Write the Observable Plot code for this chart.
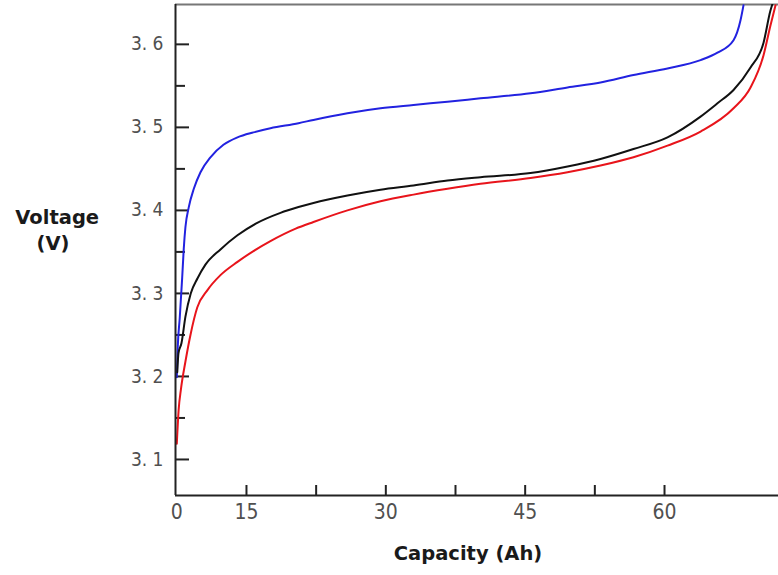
<!DOCTYPE html>
<html><head><meta charset="utf-8">
<script src="https://cdn.jsdelivr.net/npm/d3@7"></script>
<script src="https://cdn.jsdelivr.net/npm/@observablehq/plot@0.6"></script>
<style>
html,body{margin:0;padding:0;background:#fff;}
#chart svg{display:block;}
</style></head><body><div id="chart"></div>
<script>
// ---- data ----
const blueCapacity = [7.5, 7.6, 7.82, 8.08, 8.25, 8.43, 8.79, 9.33, 10.05, 11.12, 12.52, 14.03, 15.75, 17.58, 20.6, 22.21, 25.87, 29.43, 32.98, 36.64, 40.19, 45.57, 49.56, 53.11, 56.66, 60.32, 63.88, 65.7, 67.43, 68.18, 68.5];
const blueVoltage  = [3.199, 3.235, 3.271, 3.319, 3.354, 3.38, 3.404, 3.426, 3.446, 3.464, 3.479, 3.488, 3.494, 3.499, 3.505, 3.509, 3.517, 3.523, 3.527, 3.531, 3.535, 3.541, 3.548, 3.554, 3.563, 3.571, 3.581, 3.59, 3.605, 3.629, 3.647];

const blackCapacity = [7.55, 7.68, 8.0, 8.43, 9.0, 9.72, 10.6, 12.2, 14.03, 16.0, 18.66, 20.6, 22.21, 25.87, 29.43, 32.98, 36.64, 40.19, 45.57, 49.56, 53.11, 56.66, 60.32, 63.88, 65.7, 67.43, 69.26, 70.66, 71.41, 71.6];
const blackVoltage  = [3.205, 3.228, 3.24, 3.272, 3.3, 3.318, 3.335, 3.353, 3.37, 3.384, 3.397, 3.404, 3.409, 3.418, 3.425, 3.43, 3.436, 3.44, 3.445, 3.453, 3.462, 3.474, 3.488, 3.513, 3.529, 3.545, 3.572, 3.602, 3.641, 3.648];

const redCapacity = [7.5, 7.7, 7.95, 8.43, 8.97, 9.7, 10.8, 12.2, 14.03, 15.75, 17.58, 20.3, 22.21, 25.87, 29.43, 32.98, 36.64, 40.19, 45.57, 49.56, 53.11, 56.66, 60.32, 63.88, 67.43, 69.26, 70.66, 71.41, 71.95];
const redVoltage  = [3.119, 3.16, 3.185, 3.218, 3.25, 3.283, 3.304, 3.322, 3.338, 3.351, 3.363, 3.378, 3.386, 3.4, 3.411, 3.419, 3.426, 3.432, 3.439, 3.446, 3.454, 3.464, 3.478, 3.495, 3.523, 3.548, 3.587, 3.623, 3.647];

const xDomain = [7.36, 72.27];
const yDomain = [3.0566, 3.648];
const xTickValues = [15, 22.5, 30, 37.5, 45, 52.5, 60];
const xLabelValues = [7.5, 15, 30, 45, 60];
const xLabels = ["0", "15", "30", "45", "60"];
const yMajor = [3.1, 3.2, 3.3, 3.4, 3.5, 3.6];
const yMinor = [3.15, 3.25, 3.35, 3.45, 3.55];
const yLabels = ["3. 1", "3. 2", "3. 3", "3. 4", "3. 5", "3. 6"];
const yTitle1 = "Voltage";
const yTitle2 = "(V)";
const xTitle = "Capacity (Ah)";

const toRows = (cap, volt) => cap.map((c, i) => ({capacity: c, voltage: volt[i]}));
const blue = toRows(blueCapacity, blueVoltage);
const black = toRows(blackCapacity, blackVoltage);
const red = toRows(redCapacity, redVoltage);

const W = 778, H = 575, mL = 175, mR = 0, mT = 4, mB = 80;
const innerW = W - mL - mR, innerH = H - mT - mB;
const tickFont = "'Liberation Sans Narrow', 'Arial Narrow', 'DejaVu Sans Condensed', sans-serif";
const titleFont = "'DejaVu Sans', Verdana, sans-serif";

const titleStyle = {fontFamily: titleFont, fontWeight: "bold", fontSize: 19.5, fill: "#1a1a1a", textAnchor: "middle"};

const chart = Plot.plot({
  width: W, height: H,
  marginLeft: mL, marginRight: mR, marginTop: mT, marginBottom: mB,
  style: {background: "#fff", overflow: "visible"},
  x: {domain: xDomain},
  y: {domain: yDomain},
  marks: [
    Plot.ruleY([yDomain[1]], {stroke: "#777", strokeWidth: 2}),
    Plot.tickY(yMajor, {stroke: "#222", strokeWidth: 2, insetRight: innerW - 14}),
    Plot.tickY(yMinor, {stroke: "#222", strokeWidth: 2, insetRight: innerW - 10}),
    Plot.tickX(xTickValues, {stroke: "#222", strokeWidth: 2, insetTop: innerH - 10}),
    Plot.line(blue, {x: "capacity", y: "voltage", stroke: "#2222e0", strokeWidth: 2, curve: "monotone-x", clip: true}),
    Plot.line(black, {x: "capacity", y: "voltage", stroke: "#111", strokeWidth: 2, curve: "monotone-x", clip: true}),
    Plot.line(red, {x: "capacity", y: "voltage", stroke: "#e8141b", strokeWidth: 2, curve: "monotone-x", clip: true}),
    Plot.ruleX([xDomain[0]], {stroke: "#222", strokeWidth: 2}),
    Plot.ruleY([yDomain[0]], {stroke: "#222", strokeWidth: 2}),
    Plot.axisY(yMajor, {tickSize: 0, tickPadding: 12, label: null, tickFormat: d => yLabels[yMajor.indexOf(d)], fontSize: 19, fontFamily: tickFont, fill: "#505050"}),
    Plot.axisX(xLabelValues, {tickSize: 0, tickPadding: 9, label: null, tickFormat: d => xLabels[xLabelValues.indexOf(d)], fontSize: 21, fontFamily: tickFont, fill: "#505050"}),
    Plot.text([yTitle1], {frameAnchor: "top-left", dx: -118.3, dy: 205.6, ...titleStyle}),
    Plot.text([yTitle2], {frameAnchor: "top-left", dx: -122.5, dy: 231.6, ...titleStyle}),
    Plot.text([xTitle], {frameAnchor: "bottom", dx: -9, dy: 64, ...titleStyle})
  ]
});
document.getElementById("chart").appendChild(chart);
</script>
</body></html>
